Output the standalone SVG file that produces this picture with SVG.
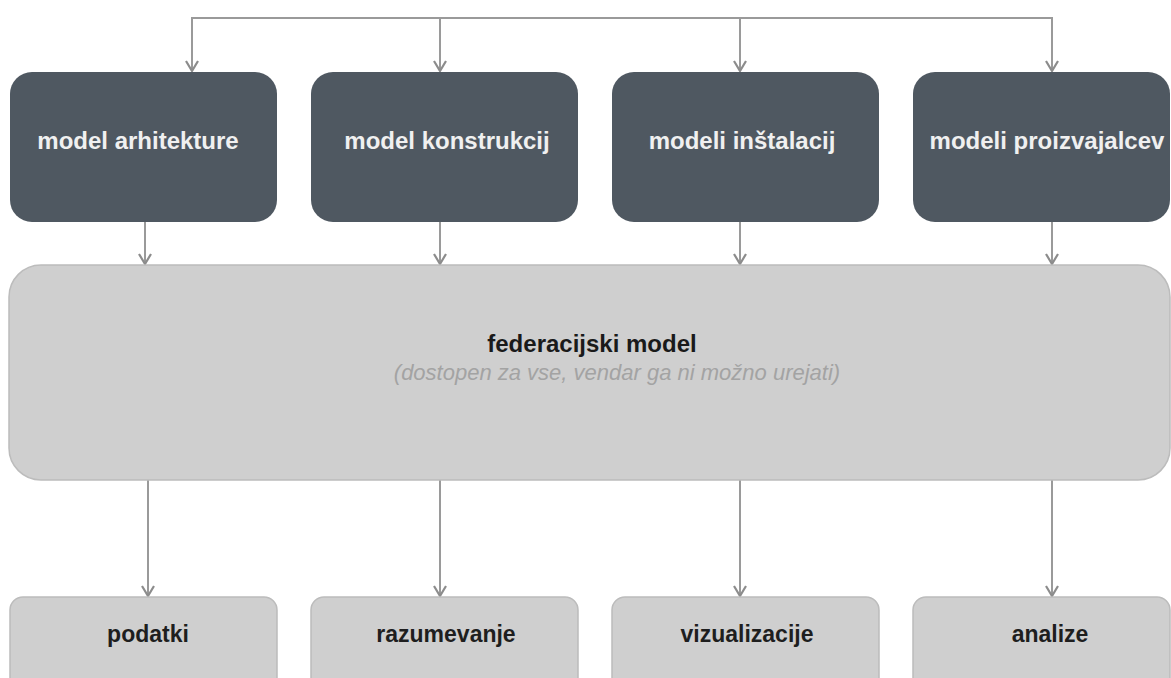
<svg xmlns="http://www.w3.org/2000/svg" width="1171" height="678" viewBox="0 0 1171 678">
<defs>
<marker id="chev" markerUnits="userSpaceOnUse" markerWidth="14" markerHeight="16" refX="12" refY="7" orient="auto" viewBox="0 0 14 14">
<path d="M2,1 L12,7 L2,13" fill="none" stroke="#8c8c8c" stroke-width="2.2"/>
</marker>
</defs>
<style>
.dark{fill:#4f5861;}
.light{fill:#cfcfcf;stroke:#bcbcbc;stroke-width:1.5;}
.dt{font-family:"Liberation Sans",Arial,sans-serif;font-weight:bold;font-size:24px;fill:#f0f0f0;text-anchor:middle;}
.lt{font-family:"Liberation Sans",Arial,sans-serif;font-weight:bold;font-size:23px;fill:#1e1e1e;text-anchor:middle;}
.ft{font-family:"Liberation Sans",Arial,sans-serif;font-weight:bold;font-size:24px;fill:#1a1a1a;text-anchor:middle;}
.st{font-family:"Liberation Sans",Arial,sans-serif;font-style:italic;font-size:22px;fill:#a3a3a3;text-anchor:middle;}
.c{fill:none;stroke:#9a9a9a;stroke-width:2;}
.a{marker-end:url(#chev);}
</style>
<rect width="1171" height="678" fill="#ffffff"/>
<g id="connectors">
<path class="c" d="M192,70 V18 H1052 V70"/>
<path class="c a" d="M192,18 V71"/>
<path class="c a" d="M440,18 V71"/>
<path class="c a" d="M740,18 V71"/>
<path class="c a" d="M1052,18 V71"/>
<path class="c a" d="M145,222 V264"/>
<path class="c a" d="M440,222 V264"/>
<path class="c a" d="M740,222 V264"/>
<path class="c a" d="M1052,222 V264"/>
<path class="c a" d="M148,480 V596"/>
<path class="c a" d="M440,480 V596"/>
<path class="c a" d="M740,480 V596"/>
<path class="c a" d="M1052,480 V596"/>
</g>
<g id="n-arhitektura">
<rect class="dark" x="10" y="72" width="267" height="150" rx="22"/>
<text class="dt" x="138" y="149">model arhitekture</text>
</g>
<g id="n-konstrukcije">
<rect class="dark" x="311" y="72" width="267" height="150" rx="22"/>
<text class="dt" x="447" y="149">model konstrukcij</text>
</g>
<g id="n-instalacije">
<rect class="dark" x="612" y="72" width="267" height="150" rx="22"/>
<text class="dt" x="742" y="149">modeli inštalacij</text>
</g>
<g id="n-proizvajalci">
<rect class="dark" x="913" y="72" width="257" height="150" rx="22"/>
<text class="dt" x="1047" y="149">modeli proizvajalcev</text>
</g>
<g id="n-federacijski">
<rect class="light" x="9" y="265" width="1161" height="215" rx="32"/>
<text class="ft" x="592" y="352">federacijski model</text>
<text class="st" x="617" y="380">(dostopen za vse, vendar ga ni možno urejati)</text>
</g>
<g id="n-podatki">
<rect class="light" x="10" y="597" width="267" height="100" rx="13"/>
<text class="lt" x="148" y="642">podatki</text>
</g>
<g id="n-razumevanje">
<rect class="light" x="311" y="597" width="267" height="100" rx="13"/>
<text class="lt" x="446" y="642">razumevanje</text>
</g>
<g id="n-vizualizacije">
<rect class="light" x="612" y="597" width="267" height="100" rx="13"/>
<text class="lt" x="747" y="642">vizualizacije</text>
</g>
<g id="n-analize">
<rect class="light" x="913" y="597" width="257" height="100" rx="13"/>
<text class="lt" x="1050" y="642">analize</text>
</g>
</svg>
